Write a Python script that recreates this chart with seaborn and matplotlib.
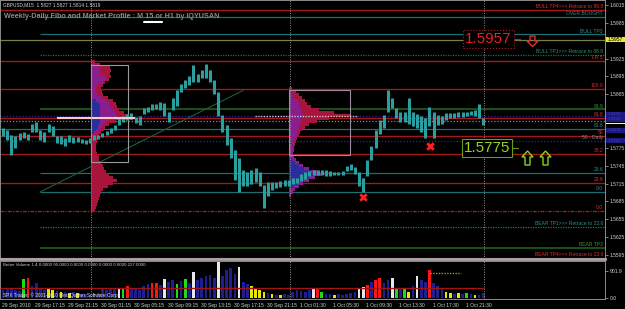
import matplotlib
matplotlib.use("Agg")
import numpy as np
import pandas as pd
import matplotlib.pyplot as plt
import seaborn as sns
from matplotlib.patches import Rectangle, Polygon
from matplotlib.lines import Line2D

# ---------------- data ----------------
symbol_header = "GBPUSD,M15  1.5827 1.5827 1.5814 1.5819"
chart_title = "Weekly-Daily Fibo and Market Profile : M 15 or H1 by IQYUSAN"
volume_header = "Better Volume 1.4 0.0000 95.0000 0.0000 0.0000 0.0000 0.0000 227.0000"
copyright_text = "SPX Trader: \u00a9 2001-2010 MetaQuotes Software Corp."

bars_per_candle = 2  # each stored range covers two M15 bars

candle_high = [1.5808, 1.5805, 1.5797, 1.5795, 1.5800, 1.5802, 1.5798, 1.5815, 1.5818, 1.5805,
               1.5802, 1.5815, 1.5812, 1.5795, 1.5795, 1.5792, 1.5797, 1.5793, 1.5793, 1.5790,
               1.5788, 1.5792, 1.5797, 1.5797, 1.5800, 1.5803, 1.5808, 1.5813, 1.5825, 1.5829,
               1.5832, 1.5834, 1.5827, 1.5829, 1.5842, 1.5844, 1.5849, 1.5849, 1.5852, 1.5850,
               1.5835, 1.5859, 1.5872, 1.5882, 1.5889, 1.5896, 1.5914, 1.5899, 1.5906, 1.5916,
               1.5906, 1.5889, 1.5869, 1.5830, 1.5813, 1.5792, 1.5771, 1.5758, 1.5738, 1.5734,
               1.5738, 1.5741, 1.5734, 1.5713, 1.5718, 1.5718, 1.5718, 1.5719, 1.5721, 1.5721,
               1.5724, 1.5724, 1.5731, 1.5734, 1.5736, 1.5738, 1.5738, 1.5738, 1.5738, 1.5736,
               1.5734, 1.5734, 1.5736, 1.5745, 1.5748, 1.5743, 1.5734, 1.5724, 1.5755, 1.5778,
               1.5805, 1.5822, 1.5830, 1.5872, 1.5859, 1.5842, 1.5835, 1.5835, 1.5859, 1.5835,
               1.5832, 1.5829, 1.5825, 1.5844, 1.5835, 1.5830, 1.5829, 1.5834, 1.5834, 1.5834,
               1.5835, 1.5835, 1.5835, 1.5837, 1.5839, 1.5849, 1.5825]
candle_low = [1.5795, 1.5788, 1.5763, 1.5775, 1.5788, 1.5792, 1.5788, 1.5802, 1.5802, 1.5788,
              1.5785, 1.5802, 1.5795, 1.5783, 1.5781, 1.5778, 1.5785, 1.5783, 1.5785, 1.5783,
              1.5781, 1.5783, 1.5788, 1.5790, 1.5793, 1.5797, 1.5800, 1.5805, 1.5813, 1.5818,
              1.5822, 1.5824, 1.5817, 1.5813, 1.5832, 1.5835, 1.5839, 1.5840, 1.5839, 1.5829,
              1.5818, 1.5839, 1.5845, 1.5869, 1.5876, 1.5881, 1.5886, 1.5886, 1.5892, 1.5892,
              1.5886, 1.5865, 1.5829, 1.5802, 1.5780, 1.5758, 1.5721, 1.5701, 1.5711, 1.5711,
              1.5714, 1.5718, 1.5711, 1.5674, 1.5694, 1.5704, 1.5708, 1.5709, 1.5711, 1.5711,
              1.5714, 1.5716, 1.5719, 1.5723, 1.5728, 1.5729, 1.5729, 1.5729, 1.5728, 1.5728,
              1.5729, 1.5729, 1.5729, 1.5736, 1.5738, 1.5731, 1.5711, 1.5701, 1.5728, 1.5755,
              1.5775, 1.5798, 1.5808, 1.5835, 1.5842, 1.5825, 1.5818, 1.5818, 1.5815, 1.5812,
              1.5808, 1.5802, 1.5792, 1.5812, 1.5792, 1.5813, 1.5815, 1.5822, 1.5825, 1.5825,
              1.5827, 1.5827, 1.5829, 1.5830, 1.5829, 1.5825, 1.5813]

volume = [267, 301, 334, 267, 234, 635, 668, 401, 501, 334,
          267, 334, 267, 234, 200, 200, 167, 200, 167, 134,
          134, 100, 134, 167, 334, 267, 334, 301, 334, 334,
          401, 334, 301, 267, 401, 468, 501, 501, 434, 635,
          534, 601, 468, 568, 635, 501, 868, 601, 668, 735,
          768, 668, 1202, 735, 935, 1002, 802, 1035, 534, 468,
          401, 334, 267, 200, 167, 134, 100, 100, 134, 100,
          200, 267, 234, 200, 267, 301, 301, 200, 134, 134,
          100, 134, 100, 134, 167, 200, 301, 367, 434, 534,
          601, 668, 501, 601, 668, 334, 334, 334, 200, 401,
          735, 601, 534, 935, 501, 401, 301, 200, 167, 134,
          167, 134, 167, 134, 100, 100, 167]
volume_kind = ("bbbbbgrbbb" "byybybybyb" "bbbbbbbbwg" "rbbbbbrrbw" "bbgbgbwbbb"
               "bbwbbbbwbb" "yyyybybybb" "bbbbbwrgbb" "ybbbbbwwrb" "rrbbwgbgyb"
               "wbbrbbbyyb" "ybgbybb")
volume_average = 334
volume_max_label = 901.9

time_labels = ["29 Sep 2010", "29 Sep 17:15", "29 Sep 21:15", "30 Sep 01:15", "30 Sep 05:15",
               "30 Sep 09:15", "30 Sep 13:15", "30 Sep 17:15", "30 Sep 21:15", "1 Oct 01:30",
               "1 Oct 05:30", "1 Oct 09:30", "1 Oct 13:30", "1 Oct 17:30", "1 Oct 21:30"]
bars_per_time_label = 16
day_separator_bars = [43, 139, 233]

# ticks that are hidden under price boxes in the screenshot are left unlabeled
price_ticks = [1.6015, 1.5985, 1.5955, 1.5925, 1.5895, 1.5865, 1.5835, 1.5805,
               1.5775, 1.5745, 1.5715, 1.5685, 1.5655, 1.5625, 1.5595]
price_tick_labels = ["1.6015", "1.5985", "", "1.5925", "1.5895", "1.5865", "", "",
                     "1.5775", "1.5745", "1.5715", "1.5685", "1.5655", "1.5625", "1.5595"]

level_prices = [1.6007, 1.5995, 1.5966, 1.5957, 1.5931, 1.5921, 1.5874, 1.5840, 1.5829, 1.5825,
                1.5820, 1.5807, 1.5795, 1.5787, 1.5765, 1.5733, 1.5716, 1.5701, 1.5669, 1.5642,
                1.5607, 1.5590]
level_labels = ["BULL TP4>>> Retrace to 88.8", "OVER BOUGHT", "BULL TP3", "", "BULL TP1>>> Retrace to 88.8",
                "LR 5", "100.0", "88.9", "", "61.8", "", "61.8", "50", "50 - Daily", "38.2", "23.6",
                "23.6", "0.0", "0.0", "BEAR TP1>>> Retrace to 23.6", "BEAR TP3", "BEAR TP4>>> Retrace to 23.6"]
level_kind = ["red", "teal", "teal", "olive", "green_dot", "red", "red", "dkgreen", "navy_dot", "red",
              "grey_dot", "teal_full", "red", "navy_dot", "red", "teal", "red", "teal", "red_dash",
              "teal_dot", "dkgreen", "red"]

weekly_profile_top = 1.5920
weekly_profile_outer = [4, 9, 19, 20, 19, 20, 18, 14, 12, 10,
                        11, 12, 17, 22, 25, 26, 28, 33, 38, 42,
                        25, 18, 14, 13, 10, 8, 7, 6, 5, 5,
                        5, 6, 8, 8, 10, 12, 13, 15, 18, 22,
                        26, 22, 17, 12, 10, 9, 8, 7, 6, 5, 4]
weekly_profile_purple = [0, 3, 9, 9, 9, 14, 15, 12, 6, 5,
                         5, 6, 10, 15, 18, 20, 22, 24, 26, 28,
                         15, 12, 10, 8, 6, 0, 0, 0, 0, 0,
                         0, 0, 0, 0, 0, 0, 0, 0, 0, 0,
                         0, 0, 0, 0, 0, 0, 0, 0, 0, 0, 0]
weekly_profile_blue = [0, 0, 0, 0, 0, 0, 0, 0, 0, 0,
                       0, 0, 0, 5, 8, 9, 9, 9, 9, 9,
                       9, 8, 7, 5, 3, 0, 0, 0, 0, 0,
                       0, 0, 0, 0, 0, 0, 0, 0, 0, 0,
                       0, 0, 0, 0, 0, 0, 0, 0, 0, 0, 0]
daily_profile_top = 1.5875
daily_profile_outer = [3, 7, 10, 13, 16, 18, 22, 30, 45, 62,
                       40, 28, 20, 16, 13, 11, 10, 8, 7, 6,
                       5, 5, 4, 5, 7, 10, 14, 20, 28, 32,
                       26, 20, 14, 10, 6, 4, 2]
daily_profile_purple = [0, 2, 4, 5, 8, 10, 10, 12, 12, 14,
                        12, 12, 10, 10, 9, 8, 8, 6, 5, 5,
                        5, 4, 4, 4, 7, 10, 14, 20, 28, 32,
                        26, 20, 14, 10, 6, 4, 2]
daily_profile_blue = [0, 0, 0, 0, 0, 0, 0, 0, 0, 0,
                      0, 0, 0, 0, 0, 0, 0, 0, 0, 0,
                      0, 0, 0, 0, 3, 6, 10, 15, 22, 25,
                      20, 15, 10, 5, 0, 0, 0]
profile_tick = 0.0005
weekly_profile_bar, daily_profile_bar = 43, 138.6
weekly_poc, daily_poc = 1.5825, 1.5829

signal_bars = [174.4, 206.8]
signal_prices = [1.5692, 1.5778]

# ---------------- layout helpers (pixel geometry of the screenshot) ----------------
W, H = 625, 309
PX_PER_BAR, X0 = 2.07, 2.0
P_TOP, P_PER_PX = 1.60234, 0.000168


def bx(px):
    return (px - X0) / PX_PER_BAR


def py(ypx):
    return P_TOP - ypx * P_PER_PX


def fx(px):
    return px / W


def fy(ypx):
    return 1 - ypx / H


sns.set_theme(style="dark", rc={
    "figure.facecolor": "black", "axes.facecolor": "black",
    "axes.edgecolor": "#8c8c8c", "axes.linewidth": 0.7,
    "xtick.color": "#b8b8b8", "ytick.color": "#b8b8b8",
    "text.color": "#c8c8c8", "axes.labelcolor": "#c8c8c8", "axes.grid": False})
plt.rcParams["font.family"] = ["Liberation Sans", "DejaVu Sans"]

fig = plt.figure(figsize=(W / 100, H / 100), dpi=100)
ax = fig.add_axes([0, fy(259), fx(605), 259 / H])
axv = fig.add_axes([0, fy(299), fx(605), 38 / H])
XLIM = (bx(0), bx(605))
for a in (ax, axv):
    a.set_xlim(*XLIM)
    for s in a.spines.values():
        s.set_color("#8c8c8c")
        s.set_linewidth(0.7)
ax.spines["bottom"].set_linewidth(2.0)
ax.spines["bottom"].set_color("#a8a8a8")
ax.set_ylim(py(259), py(0))

# ---------------- horizontal levels ----------------
styles = {
    "red": ("#a31818", "-", 1.0, True), "teal": ("#1d6e6e", "-", 0.9, False),
    "teal_full": ("#1d6e6e", "-", 0.9, True), "olive": ("#7d7d4c", "-", 0.9, True),
    "green_dot": ("#1e6e3e", (0, (1, 1)), 0.9, False), "dkgreen": ("#174f17", "-", 1.5, False),
    "navy_dot": ("#2a2a9a", (0, (1, 1.5)), 0.9, True), "grey_dot": ("#8a8a8a", (0, (1, 1.5)), 0.9, True),
    "red_dash": ("#b01c1c", (0, (3, 1, 1, 1)), 0.9, True), "teal_dot": ("#1d7a6a", (0, (1, 1)), 0.9, False),
}
label_colors = {"red": "#d83030", "red_dash": "#d83030", "teal": "#2a9090", "teal_full": "#2a9090",
                "green_dot": "#2f9060", "dkgreen": "#3f8f3f", "olive": "#9a9a60",
                "navy_dot": "#8a8a8a", "grey_dot": "#8a8a8a", "teal_dot": "#2a9080"}
for p, lab, k in zip(level_prices, level_labels, level_kind):
    col, ls, lw, full = styles[k]
    x0 = XLIM[0] if full else bx(40)
    ax.hlines(p, x0, XLIM[1], colors=col, linestyles=ls, linewidth=lw, zorder=1)
    if lab:
        ax.text(bx(603), p + 0.6 * P_PER_PX, lab, color=label_colors[k], fontsize=3.6,
                ha="right", va="bottom", zorder=7, clip_on=True)

# trend triangle
ax.plot([bx(40), bx(243)], [py(192), py(90.5)], color="#1c5c3c", lw=0.8, zorder=1)

# ---------------- market profiles ----------------
def draw_profile(top, start_bar, layers):
    n = len(layers[0][0])
    levels = top - profile_tick * np.arange(n)
    for counts, col in layers:
        w = np.asarray(counts, float) / PX_PER_BAR
        ax.barh(levels, w, left=start_bar, height=profile_tick, color=col, linewidth=0, zorder=2)

draw_profile(weekly_profile_top, weekly_profile_bar,
             [(weekly_profile_outer, "#a8143c"), (weekly_profile_purple, "#8a1e8e"),
              (weekly_profile_blue, "#2c2c9c")])
draw_profile(daily_profile_top, daily_profile_bar,
             [(daily_profile_outer, "#a8143c"), (daily_profile_purple, "#8a1e8e"),
              (daily_profile_blue, "#2c2c9c")])
ax.add_patch(Rectangle((bx(91), py(162)), bx(128) - bx(91), py(65) - py(162),
                       fill=False, ec="#9a9a9a", lw=0.8, zorder=3))
ax.add_patch(Rectangle((bx(289), py(155)), bx(350) - bx(289), py(90) - py(155),
                       fill=False, ec="#a08aa0", lw=0.8, zorder=3))

# ---------------- candles ----------------
cx = np.arange(len(candle_high)) * bars_per_candle + 0.5
ax.vlines(cx, candle_low, candle_high, colors="#2a9f9f", linewidth=2.2, zorder=4)

# points of control
ax.hlines(weekly_poc, bx(57), bx(135), colors="#ffc8c8", linewidth=1.5, zorder=5)
ax.hlines(daily_poc, bx(255), bx(358), colors="#c8c8c8", linestyles=(0, (1, 1)), linewidth=1.0, zorder=5)

ax.scatter(signal_bars, signal_prices, marker="x", s=22, c="#ff2020", linewidths=2.0, zorder=6)

for b in day_separator_bars:
    for a in (ax, axv):
        a.axvline(b, color="#909090", ls=(0, (1, 1.5)), lw=0.7, zorder=6)

# ---------------- right price axis ----------------
ax.yaxis.tick_right()
ax.set_yticks(price_ticks)
ax.set_yticklabels(price_tick_labels)
ax.tick_params(axis="y", direction="out", length=2, width=0.5, pad=1.5, labelsize=3.6, labelcolor="#d0d0d0")
ax.tick_params(axis="x", bottom=False, labelbottom=False)

tr = ax.get_yaxis_transform()


def axis_box(price, face, text="", tcolor="black", h=5.0, fs=3.6):
    ax.add_patch(Rectangle((1.002, price - h / 2 * P_PER_PX), 0.0315, h * P_PER_PX, transform=tr,
                           facecolor=face, edgecolor="none", clip_on=False, zorder=10))
    if text:
        ax.text(1.004, price, text, transform=tr, color=tcolor, fontsize=fs, va="center",
                ha="left", clip_on=False, zorder=11)


axis_box(1.5957, "#e8e830", "1.5957", h=5.4)
axis_box(py(114), "#1a1a80", "1.5830", "#4040b8", fs=3.2)
axis_box(py(119.2), "#1a1a80", "1.5822", "#4040b8", fs=3.2)
axis_box(py(130), "#1a1a80", "1.5804", "#4040b8", fs=3.2)
axis_box(py(140.5), "#1a1a80", "1.5787", "#4040b8", fs=3.2)
axis_box(py(123.6), "#f0f0f0", h=1.6)

# ---------------- volume panel (seaborn) ----------------
vol_df = pd.DataFrame({"bar": cx, "volume": volume, "kind": list(volume_kind)})
pal = {"b": "#1e1e8e", "w": "#e8e8e8", "r": "#ff1414", "g": "#18e018", "y": "#e6e600"}
sns.barplot(data=vol_df, x="bar", y="volume", hue="kind", palette=pal, native_scale=True,
            dodge=False, width=0.65, errorbar=None, saturation=1, legend=False,
            linewidth=0, ax=axv, zorder=2)
axv.set_xlim(*XLIM)
axv.set_ylim(-33.4, -33.4 + 38 * 33.4)
axv.set_xlabel("")
axv.set_ylabel("")
axv.hlines(volume_average, XLIM[0], bx(484), colors="#a01414", linewidth=1.0, zorder=3)
axv.hlines(835, bx(430), bx(461), colors="#9a9a20", linestyles=(0, (1, 1)), linewidth=1.0, zorder=3)
axv.yaxis.tick_right()
axv.set_yticks([0, volume_max_label])
axv.set_yticklabels(["0.0", "901.9"])
axv.tick_params(axis="y", direction="out", length=2, width=0.5, pad=1.5, labelsize=3.6, labelcolor="#d0d0d0")
axv.set_xticks(np.arange(len(time_labels)) * bars_per_time_label)
axv.set_xticklabels(time_labels)
plt.setp(axv.get_xticklabels(), ha="left")
axv.tick_params(axis="x", direction="out", length=2, width=0.5, pad=1.2, labelsize=3.6, labelcolor="#d0d0d0")

# ---------------- texts and signals ----------------
fig.text(fx(3), fy(5), symbol_header, fontsize=3.4, color="#d8d8d8", va="center")
fig.text(fx(4), fy(16), chart_title, fontsize=5.2, fontweight="bold", color="#8a8a8a", va="center")
fig.add_artist(Line2D([fx(144), fx(162)], [fy(22), fy(22)], color="white", lw=1.5))
fig.text(fx(3), fy(265.5), volume_header, fontsize=3.2, color="#c8c8c8", va="center")
fig.text(fx(3), fy(295), copyright_text, fontsize=3.4, color="#e0e0e0", va="center")

fig.text(fx(488.5), fy(39), "1.5957", fontsize=11, color="#e8202a", ha="center", va="center",
         bbox=dict(boxstyle="square,pad=0.12", fc="black", ec="#b02020", lw=0.8, ls=":"))
fig.add_artist(Line2D([fx(514), fx(520)], [fy(39), fy(39)], color="#c02020", lw=0.8))
fig.text(fx(487), fy(148), "1.5775", fontsize=11, color="#94d420", ha="center", va="center",
         bbox=dict(boxstyle="square,pad=0.12", fc="black", ec="#6a9a1a", lw=0.8))
fig.add_artist(Line2D([fx(512), fx(518)], [fy(148), fy(148)], color="#6a9a1a", lw=0.8))


def arrow(pts, col):
    fig.add_artist(Polygon([(fx(a), fy(b)) for a, b in pts], closed=True, fill=False, ec=col, lw=1.0,
                           transform=fig.transFigure))


arrow([(530, 36), (535, 36), (535, 41), (538, 41), (532.5, 46.5), (527, 41), (530, 41)], "#e03030")
for dx in (0, 18):
    arrow([(525 + dx, 165), (530 + dx, 165), (530 + dx, 157), (533 + dx, 157), (527.5 + dx, 151),
           (522 + dx, 157), (525 + dx, 157)], "#8ad020")

fig.savefig("out.png", dpi=100, facecolor="black")
